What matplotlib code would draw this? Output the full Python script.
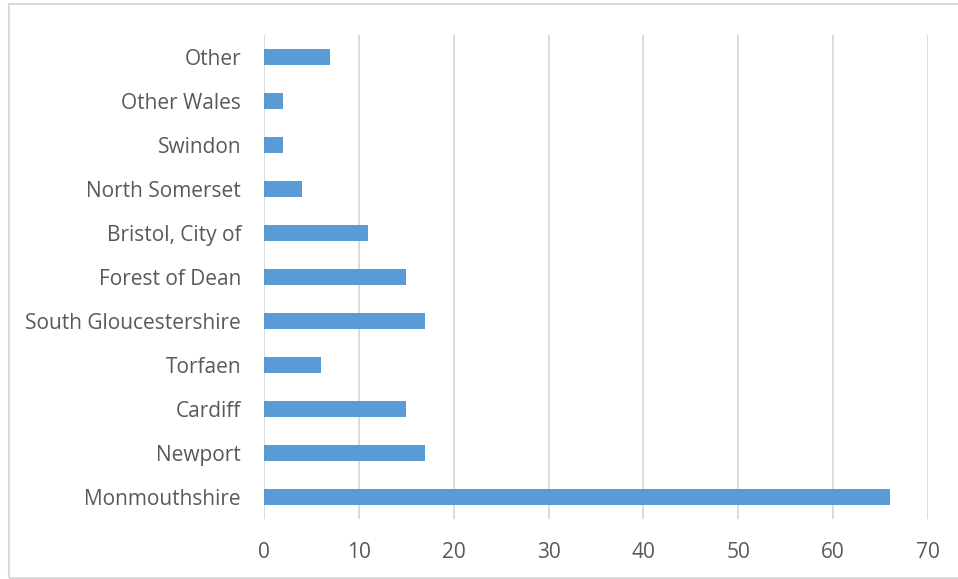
import matplotlib
matplotlib.use("Agg")
import matplotlib.pyplot as plt
from matplotlib.patches import Rectangle

categories = ["Monmouthshire", "Newport", "Cardiff", "Torfaen", "South Gloucestershire",
              "Forest of Dean", "Bristol, City of", "North Somerset", "Swindon",
              "Other Wales", "Other"]
values = [66, 17, 15, 6, 17, 15, 11, 4, 2, 2, 7]
xticks = [0, 10, 20, 30, 40, 50, 60, 70]

plt.rcParams["font.family"] = ["Open Sans", "DejaVu Sans"]

fig = plt.figure(figsize=(9.58, 5.79), dpi=100, facecolor="white")
# chart area border
fig.patches.append(Rectangle((8.5 / 958, 1 / 579), 1.0, 574 / 579, transform=fig.transFigure,
                             fill=False, edgecolor="#d9d9d9", linewidth=1.5))
ax = fig.add_axes([264 / 958, 1 - 519 / 579, (928 - 264) / 958, (519 - 35) / 579])

ax.barh(range(len(categories)), values, height=0.35, color="#5b9bd5", zorder=3)
ax.set_xlim(0, 70)
ax.set_ylim(-0.5, len(categories) - 0.5)
ax.set_xticks(xticks)
ax.set_yticks(range(len(categories)))
ax.set_yticklabels(categories)
ax.xaxis.grid(True, color="#d9d9d9", linewidth=1.3, zorder=0)
for s in ax.spines.values():
    s.set_visible(False)
ax.tick_params(axis="both", length=0, labelsize=15, labelcolor="#595959")
ax.tick_params(axis="x", pad=16.5)
ax.tick_params(axis="y", pad=16.5)

plt.savefig("out.png", dpi=100, facecolor="white")
